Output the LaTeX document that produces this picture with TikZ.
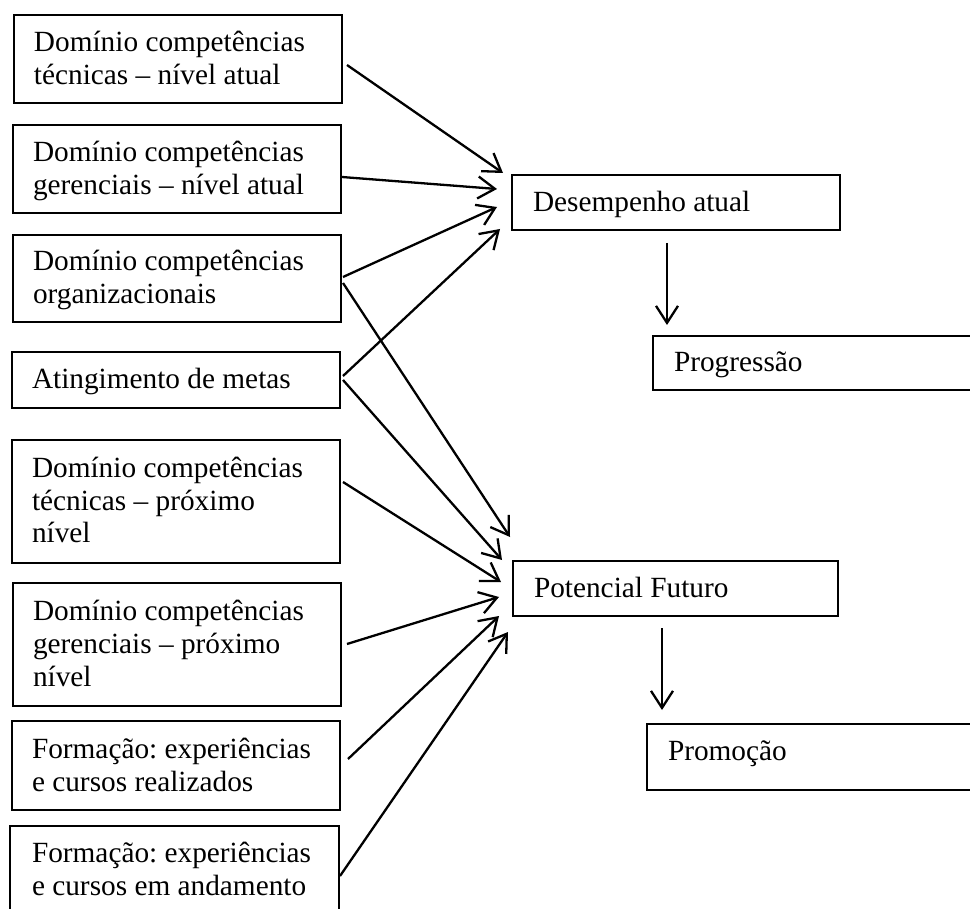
\documentclass[tikz,border=0pt]{standalone}
\usepackage{fontspec}
\setmainfont{Liberation Serif}
\usetikzlibrary{arrows.meta}
\begin{document}
\frenchspacing
\begin{tikzpicture}[x=1pt,y=-1pt,
  box/.style={draw=black, line width=2pt, inner sep=0pt, outer sep=0pt, anchor=north west},
  txt/.style={anchor=north west, inner sep=0pt, outer sep=0pt, align=flush left, text width=330pt,
    font=\fontsize{29.3}{33}\selectfont\frenchspacing},
  arr/.style={line width=2.3pt, -{Straight Barb[length=17pt,width=22pt]}}]
\useasboundingbox (0,0) rectangle (970,909);
\clip (0,0) rectangle (970,909);
% left boxes
\node[box, minimum width=328pt, minimum height=88pt] (b1) at (14,15) {};
\node[box, minimum width=328pt, minimum height=88pt] (b2) at (13,125) {};
\node[box, minimum width=328pt, minimum height=87pt] (b3) at (13,235) {};
\node[box, minimum width=328pt, minimum height=56pt] (b4) at (12,352) {};
\node[box, minimum width=328pt, minimum height=123pt] (b5) at (12,440) {};
\node[box, minimum width=328pt, minimum height=123pt] (b6) at (13,583) {};
\node[box, minimum width=328pt, minimum height=89pt] (b7) at (12,721) {};
\node[box, minimum width=329pt, minimum height=100pt] (b8) at (10,826) {};
% right boxes
\node[box, minimum width=328pt, minimum height=55pt] (dA) at (512,175) {};
\node[box, minimum width=340pt, minimum height=54pt] (pA) at (653,336) {};
\node[box, minimum width=325pt, minimum height=55pt] (dB) at (513,561) {};
\node[box, minimum width=340pt, minimum height=66pt] (pB) at (647,724) {};
% texts
\node[txt] (t1) at (34,28.9) {\strut Domínio competências\\técnicas – nível atual};
\node[txt] (t2) at (33,138.9) {\strut Domínio competências\\gerenciais – nível atual};
\node[txt] (t3) at (33,247.9) {\strut Domínio competências\\organizacionais};
\node[txt] (t4) at (32,365.9) {\strut Atingimento de metas};
\node[txt] (t5) at (32,453.9) {\strut Domínio competências\\técnicas – próximo\\nível};
\node[txt] (t6) at (33,596.9) {\strut Domínio competências\\gerenciais – próximo\\nível};
\node[txt] (t7) at (32,734.9) {\strut Formação: experiências\\e cursos realizados};
\node[txt] (t8) at (32,838.9) {\strut Formação: experiências\\e cursos em andamento};
\node[txt] (tA) at (533,188.9) {\strut Desempenho atual};
\node[txt] (tP) at (674,348.9) {\strut Progressão};
\node[txt] (tB) at (534,573.9) {\strut Potencial Futuro};
\node[txt] (tQ) at (668,736.9) {\strut Promoção};
% arrows into Desempenho atual
\draw[arr] ([shift={(5,50)}]b1.north east) -- ([shift={(-9,-2)}]dA.north west);
\draw[arr] ([shift={(1,52)}]b2.north east) -- ([shift={(-15,14)}]dA.north west);
\draw[arr] ([shift={(2,42)}]b3.north east) -- ([shift={(-15,32)}]dA.north west);
\draw[arr] ([shift={(3,24)}]b4.north east) -- ([shift={(-12,54)}]dA.north west);
% arrows into Potencial Futuro
\draw[arr] ([shift={(2,48)}]b3.north east) -- ([shift={(-3,-24)}]dB.north west);
\draw[arr] ([shift={(3,28)}]b4.north east) -- ([shift={(-11,-1)}]dB.north west);
\draw[arr] ([shift={(3,42)}]b5.north east) -- ([shift={(-12,21)}]dB.north west);
\draw[arr] ([shift={(6,61)}]b6.north east) -- ([shift={(-14,36)}]dB.north west);
\draw[arr] ([shift={(8,38)}]b7.north east) -- ([shift={(-14,55)}]dB.north west);
\draw[arr] ([shift={(1,50)}]b8.north east) -- ([shift={(-5,71)}]dB.north west);
% vertical arrows
\draw[arr] ([shift={(155,13)}]dA.south west) -- ([shift={(14,-11)}]pA.north west);
\draw[arr] ([shift={(149,12)}]dB.south west) -- ([shift={(15,-14)}]pB.north west);
\end{tikzpicture}
\end{document}
